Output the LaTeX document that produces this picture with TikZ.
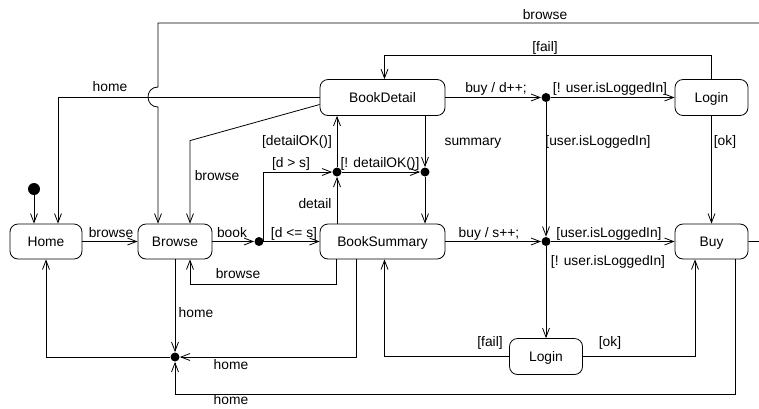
\documentclass[tikz,border=0pt]{standalone}
\usepackage{fontspec}
\setmainfont{Liberation Sans}
\usetikzlibrary{arrows.meta}
\begin{document}
\begin{tikzpicture}[x=1pt,y=-1pt,
  font=\fontsize{13.8}{16}\selectfont,
  line width=0.8pt,
  >={Straight Barb[length=9pt,width=7pt]},
  state/.style={draw, rounded corners=8pt, minimum height=35pt, inner sep=0pt, text height=9.7pt, text depth=0pt},
  dot/.style={circle, fill, inner sep=0pt, minimum size=9pt},
  lbl/.style={inner sep=0pt, text height=9.7pt, text depth=0pt}]
\useasboundingbox (0,0) rectangle (759,408);

% states
\node[state, minimum width=72pt] (home) at (46,241.5) {Home};
\node[state, minimum width=74pt] (browse) at (175,241.5) {Browse};
\node[state, minimum width=125pt] (bs) at (382.5,241.5) {BookSummary};
\node[state, minimum width=125pt, minimum height=36pt] (bd) at (382.5,97.5) {BookDetail};
\node[state, minimum width=73pt, minimum height=36pt] (login1) at (711.5,97.5) {Login};
\node[state, minimum width=73pt] (buy) at (711.5,241.5) {Buy};
\node[state, minimum width=73pt, minimum height=36pt] (login2) at (546,356.5) {Login};

% pseudo states
\node[circle, fill, inner sep=0pt, minimum size=12pt] (init) at (34,189) {};
\node[dot] (j1) at (259,241.5) {};
\node[dot] (j2) at (337,172) {};
\node[dot] (j3) at (425,172) {};
\node[dot] (j4) at (546,97.5) {};
\node[dot] (j5) at (546,241.5) {};
\node[dot] (j6) at (175,357) {};

\coordinate (c2) at (175,394);
\coordinate (c4) at (763,23);
\coordinate (c5) at (158,23);

% connectors
\draw[->] (init) -- (init |- home.north);
\draw[->] (home.east) -- (browse.west);
\draw[->] (browse.east) -- (j1);
\draw[->] (j1) -- (bs.west);
\draw[->] (j1) -- ++(4,0) |- (j2);
\draw[->] (bs.north -| j2) -- (j2);
\draw[->] (j2) -- (j2 |- bd.south);
\draw[->] (j2) -- (j3);
\draw[->] (bd.south -| j3) -- (j3);
\draw[->] (j3) -- (j3 |- bs.north);
\draw[->] (bd.east) -- (j4);
\draw[->] (j4) -- (login1.west);
\draw[->] (j4) -- (j5);
\draw[->] (bs.east) -- (j5);
\draw[->] (j5) -- (buy.west);
\draw[->] (j5) -- (login2.north);
\draw[->] (login1.north) -- ++(0,-24) -| ([xshift=2pt]bd.north);
\draw[->] (login1.south) -- (buy.north);
\draw[->] (login2.west) -| ([xshift=2pt]bs.south);
\draw[->] (login2.east) -| ([xshift=-16.5pt]buy.south);
\draw[->] ([xshift=24pt]buy.south) |- (c2) -- (j6);
\draw[->] ([xshift=-26.5pt]bs.south) |- (j6);
\draw[->] (browse.south) -- (j6);
\draw[->] (j6) -| (home.south);
\draw[->] ([xshift=-46.5pt]bs.south) -- ++(0,25) -| ([xshift=15pt]browse.south);
\draw[->] ([yshift=-7pt]bd.west) -- ([xshift=15pt,yshift=83pt]browse.north) -- ([xshift=15pt]browse.north);
\draw[->] (bd.west) -| ([xshift=12pt]home.north);
\draw[->] (buy.east) -| (c4) -- (c5) -- ++(0,64)
  .. controls +(-13.3,0) and +(-13.3,0) .. ++(0,20) -- ([xshift=-17pt]browse.north);

% labels
\node[lbl] (t1) at (110,87) {home};
\node[lbl] (t2) at (545,15) {browse};
\node[lbl] (t3) at (545,47) {[fail]};
\node[lbl] (t4) at (496,88) {buy / d++;};
\node[lbl] (t5) at (610,88) {[! user.isLoggedIn]};
\node[lbl] (t6) at (598,141) {[user.isLoggedIn]};
\node[lbl] (t7) at (725,141) {[ok]};
\node[lbl] (t8) at (473,141) {summary};
\node[lbl] (t9) at (297,141) {[detailOK()]};
\node[lbl] (t10) at (217,176) {browse};
\node[lbl] (t11) at (291,163) {[d > s]};
\node[lbl] (t12) at (380,163) {[! detailOK()]};
\node[lbl] (t13) at (315,204) {detail};
\node[lbl] (t14) at (111,233) {browse};
\node[lbl] (t15) at (232,233) {book};
\node[lbl] (t16) at (294,233) {[d <= s]};
\node[lbl] (t17) at (489,233) {buy / s++;};
\node[lbl] (t18) at (609,233) {[user.isLoggedIn]};
\node[lbl] (t19) at (608,261) {[! user.isLoggedIn]};
\node[lbl] (t20) at (238,274) {browse};
\node[lbl] (t21) at (196,313) {home};
\node[lbl] (t22) at (231,365) {home};
\node[lbl] (t23) at (231,400) {home};
\node[lbl] (t24) at (490,342) {[fail]};
\node[lbl] (t25) at (610,342) {[ok]};
\end{tikzpicture}
\end{document}
